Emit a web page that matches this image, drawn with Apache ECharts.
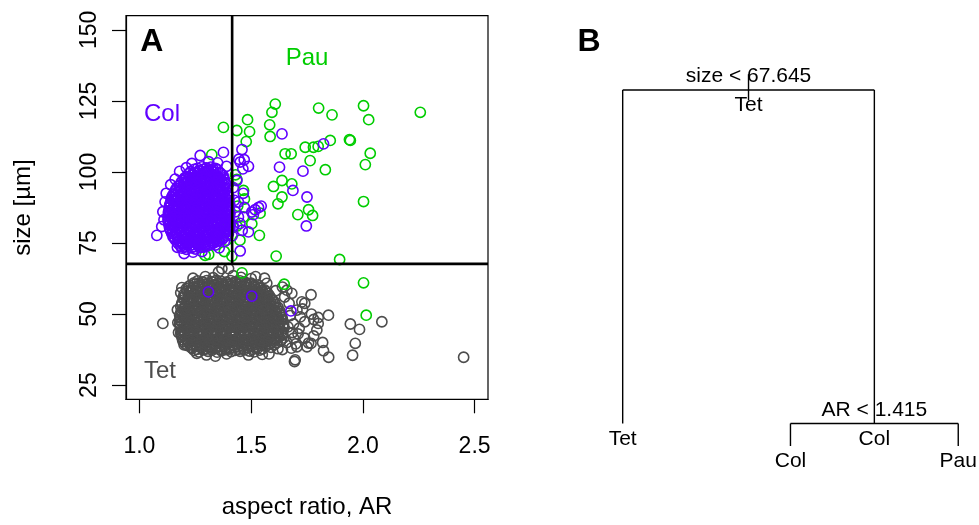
<!DOCTYPE html>
<html><head><meta charset="utf-8">
<script src="https://cdn.jsdelivr.net/npm/echarts@6/dist/echarts.min.js"></script>
<style>html,body{margin:0;padding:0;background:#fff}#c{width:979px;height:525px}</style>
</head><body><div id="c"></div><script>
// ---------- data ----------
const arTicks = [1.0, 1.5, 2.0, 2.5];
const sizeTicks = [25, 50, 75, 100, 125, 150];
const splitSize = 67.645;
const splitAR = 1.415;

const tetPoints = [
[1.245,37.2],[1.266,36.7],[1.284,37.4],[1.307,36.9],[1.325,37.3],[1.348,36.6],[1.367,37.1],[1.386,37.5],[1.41,36.8],[1.428,37.2],[1.451,36.9],[1.469,37.4],[1.492,37.0],[1.513,36.7],[1.538,37.3],
[1.215,38.9],[1.232,38.3],[1.256,38.7],[1.274,38.4],[1.297,38.9],[1.315,38.5],[1.338,38.2],[1.356,38.8],[1.379,38.6],[1.398,38.3],[1.42,38.9],[1.441,38.5],[1.46,38.7],[1.483,38.2],[1.503,38.8],[1.524,38.4],[1.547,38.9],[1.566,38.6],[1.589,38.3],
[1.196,40.3],[1.219,39.8],[1.238,40.4],[1.259,40.0],[1.281,40.5],[1.3,39.9],[1.323,40.2],[1.342,40.6],[1.363,39.8],[1.386,40.3],[1.405,40.0],[1.427,40.5],[1.447,39.9],[1.469,40.2],[1.49,40.6],[1.511,40.0],[1.533,40.3],[1.552,39.8],[1.574,40.4],[1.593,40.1],[1.614,39.9],[1.631,40.4],
[1.19,41.9],[1.208,41.4],[1.229,41.8],[1.251,41.5],[1.27,42.0],[1.292,41.6],[1.311,41.3],[1.334,41.9],[1.353,41.6],[1.375,42.0],[1.396,41.4],[1.416,41.8],[1.438,41.5],[1.457,42.1],[1.479,41.6],[1.5,41.3],[1.521,41.9],[1.543,41.5],[1.562,42.0],[1.584,41.7],[1.603,41.3],[1.625,41.9],[1.645,41.6],
[1.185,43.4],[1.204,43.0],[1.225,43.5],[1.243,43.1],[1.265,42.9],[1.285,43.4],[1.306,43.1],[1.327,43.6],[1.345,43.0],[1.368,43.3],[1.387,42.9],[1.409,43.5],[1.43,43.2],[1.449,42.8],[1.471,43.4],[1.492,43.1],[1.512,43.6],[1.534,43.0],[1.553,43.3],[1.575,42.9],[1.596,43.4],[1.617,43.1],[1.641,43.3],
[1.186,44.6],[1.21,45.1],[1.229,44.7],[1.252,45.0],[1.271,44.5],[1.293,44.9],[1.314,45.2],[1.335,44.6],[1.357,45.0],[1.376,44.7],[1.399,45.1],[1.418,44.5],[1.44,44.9],[1.461,45.2],[1.48,44.6],[1.503,44.9],[1.522,45.1],[1.544,44.6],[1.566,45.0],[1.585,44.7],[1.607,45.2],[1.627,44.8],[1.646,45.0],
[1.18,46.5],[1.199,46.1],[1.22,46.6],[1.241,46.2],[1.262,46.0],[1.282,46.5],[1.304,46.2],[1.323,46.7],[1.346,46.1],[1.365,46.4],[1.387,46.0],[1.407,46.6],[1.428,46.3],[1.45,45.9],[1.47,46.5],[1.491,46.2],[1.512,46.7],[1.534,46.1],[1.555,46.4],[1.574,46.0],[1.597,46.5],[1.618,46.2],[1.644,46.4],
[1.181,47.7],[1.205,48.2],[1.226,47.8],[1.246,48.1],[1.268,47.6],[1.288,48.0],[1.31,48.3],[1.33,47.7],[1.351,48.1],[1.373,47.8],[1.392,48.2],[1.414,47.6],[1.435,48.0],[1.456,48.3],[1.477,47.7],[1.498,48.0],[1.519,48.2],[1.54,47.7],[1.561,48.1],[1.582,47.8],[1.603,48.3],[1.622,47.9],[1.64,48.1],
[1.18,49.6],[1.198,49.2],[1.217,49.7],[1.239,49.3],[1.259,49.1],[1.281,49.6],[1.302,49.3],[1.322,49.8],[1.344,49.2],[1.364,49.5],[1.386,49.1],[1.406,49.7],[1.428,49.4],[1.448,49.0],[1.469,49.6],[1.49,49.3],[1.511,49.8],[1.532,49.2],[1.553,49.5],[1.574,49.1],[1.595,49.6],[1.615,49.3],[1.635,49.5],
[1.186,50.8],[1.207,51.3],[1.228,50.9],[1.249,51.2],[1.27,50.7],[1.291,51.1],[1.312,51.4],[1.334,50.8],[1.354,51.2],[1.375,50.9],[1.397,51.3],[1.417,50.7],[1.438,51.1],[1.46,51.4],[1.48,50.8],[1.501,51.1],[1.523,51.3],[1.543,50.8],[1.565,51.2],[1.585,50.9],[1.607,51.3],[1.629,51.0],
[1.185,52.7],[1.203,52.3],[1.222,52.8],[1.243,52.4],[1.264,52.2],[1.285,52.7],[1.306,52.4],[1.326,52.9],[1.348,52.3],[1.369,52.6],[1.39,52.2],[1.411,52.8],[1.432,52.5],[1.453,52.1],[1.474,52.7],[1.495,52.4],[1.516,52.9],[1.537,52.3],[1.558,52.6],[1.579,52.2],[1.6,52.7],[1.62,52.4],
[1.19,53.9],[1.212,54.4],[1.233,54.0],[1.254,54.3],[1.275,53.8],[1.296,54.2],[1.317,54.5],[1.338,53.9],[1.359,54.3],[1.38,54.0],[1.401,54.4],[1.422,53.8],[1.443,54.2],[1.464,54.5],[1.485,53.9],[1.506,54.2],[1.527,54.4],[1.548,53.9],[1.569,54.3],[1.588,54.0],[1.605,54.2],
[1.195,55.8],[1.216,55.4],[1.238,55.9],[1.259,55.5],[1.28,55.3],[1.301,55.8],[1.322,55.5],[1.343,56.0],[1.364,55.4],[1.385,55.7],[1.406,55.3],[1.427,55.9],[1.448,55.6],[1.469,55.2],[1.49,55.8],[1.511,55.5],[1.532,56.0],[1.553,55.4],[1.572,55.7],[1.59,55.5],
[1.2,57.0],[1.222,57.5],[1.243,57.1],[1.264,57.4],[1.285,56.9],[1.306,57.3],[1.327,57.6],[1.348,57.0],[1.37,57.4],[1.391,57.1],[1.412,57.5],[1.433,56.9],[1.454,57.3],[1.475,57.6],[1.496,57.0],[1.517,57.3],[1.538,57.5],[1.557,57.0],[1.575,57.3],
[1.21,58.9],[1.231,58.5],[1.252,59.0],[1.273,58.6],[1.294,58.4],[1.316,58.9],[1.337,58.6],[1.358,59.1],[1.379,58.5],[1.4,58.8],[1.421,58.4],[1.442,59.0],[1.463,58.7],[1.484,58.3],[1.505,58.9],[1.524,58.6],[1.543,59.0],[1.56,58.5],
[1.225,60.0],[1.247,60.5],[1.268,60.1],[1.289,60.4],[1.311,59.9],[1.332,60.3],[1.353,60.6],[1.374,60.0],[1.395,60.4],[1.416,60.1],[1.437,60.5],[1.458,59.9],[1.479,60.3],[1.5,60.6],[1.516,60.0],[1.531,60.3],
[1.26,61.7],[1.281,61.3],[1.302,61.8],[1.323,61.4],[1.345,61.9],[1.366,61.5],[1.387,61.2],[1.408,61.8],[1.429,61.4],[1.45,61.7],[1.47,61.3],
[1.236,37.9],[1.257,37.6],[1.279,38.0],[1.298,37.7],[1.32,38.1],[1.34,37.8],[1.361,37.5],[1.382,38.0],[1.402,37.7],[1.423,38.1],[1.444,37.6],[1.465,37.9],[1.486,38.1],[1.507,37.6],[1.528,37.9],[1.55,37.7],
[1.206,39.5],[1.228,39.2],[1.248,39.6],[1.27,39.3],[1.29,39.7],[1.311,39.4],[1.332,39.1],[1.352,39.6],[1.374,39.3],[1.394,39.7],[1.415,39.2],[1.436,39.5],[1.457,39.7],[1.478,39.2],[1.499,39.5],[1.52,39.3],[1.541,39.7],[1.562,39.2],[1.583,39.5],[1.604,39.3],
[1.193,41.0],[1.214,40.7],[1.235,41.1],[1.256,40.8],[1.277,41.2],[1.298,40.9],[1.318,40.6],[1.339,41.1],[1.36,40.8],[1.381,41.2],[1.402,40.7],[1.423,41.0],[1.444,41.2],[1.465,40.7],[1.486,41.0],[1.507,40.8],[1.528,41.2],[1.548,40.7],[1.569,41.0],[1.59,40.8],[1.611,41.1],[1.635,40.9],
[1.187,42.6],[1.199,42.3],[1.22,42.7],[1.241,42.4],[1.262,42.8],[1.282,42.5],[1.303,42.2],[1.324,42.7],[1.345,42.4],[1.366,42.8],[1.387,42.3],[1.408,42.6],[1.429,42.8],[1.45,42.3],[1.471,42.6],[1.492,42.4],[1.513,42.8],[1.534,42.3],[1.555,42.6],[1.576,42.4],[1.597,42.7],[1.618,42.5],[1.64,42.6],
[1.195,44.1],[1.217,43.8],[1.238,44.2],[1.259,43.9],[1.28,44.3],[1.301,44.0],[1.322,43.7],[1.343,44.2],[1.364,43.9],[1.385,44.3],[1.406,43.8],[1.427,44.1],[1.448,44.3],[1.469,43.8],[1.49,44.1],[1.511,43.9],[1.532,44.3],[1.553,43.8],[1.574,44.1],[1.595,43.9],[1.616,44.2],[1.637,44.0],
[1.183,45.7],[1.204,45.4],[1.225,45.8],[1.246,45.5],[1.267,45.9],[1.288,45.6],[1.309,45.3],[1.33,45.8],[1.351,45.5],[1.372,45.9],[1.393,45.4],[1.414,45.7],[1.435,45.9],[1.456,45.4],[1.477,45.7],[1.498,45.5],[1.519,45.9],[1.54,45.4],[1.561,45.7],[1.582,45.5],[1.603,45.8],[1.624,45.6],[1.643,45.7],
[1.19,47.2],[1.211,46.9],[1.232,47.3],[1.253,47.0],[1.274,47.4],[1.295,47.1],[1.316,46.8],[1.337,47.3],[1.358,47.0],[1.379,47.4],[1.4,46.9],[1.421,47.2],[1.442,47.4],[1.463,46.9],[1.484,47.2],[1.505,47.0],[1.526,47.4],[1.547,46.9],[1.568,47.2],[1.589,47.0],[1.61,47.3],[1.631,47.1],
[1.183,48.8],[1.202,48.5],[1.223,48.9],[1.244,48.6],[1.265,49.0],[1.286,48.7],[1.307,48.4],[1.328,48.9],[1.349,48.6],[1.37,49.0],[1.391,48.5],[1.412,48.8],[1.433,49.0],[1.454,48.5],[1.475,48.8],[1.496,48.6],[1.517,49.0],[1.538,48.5],[1.559,48.8],[1.58,48.6],[1.601,48.9],[1.62,48.7],[1.638,48.8],
[1.19,50.3],[1.21,50.0],[1.231,50.4],[1.252,50.1],[1.273,50.5],[1.294,50.2],[1.315,49.9],[1.336,50.4],[1.357,50.1],[1.378,50.5],[1.399,50.0],[1.42,50.3],[1.441,50.5],[1.462,50.0],[1.483,50.3],[1.504,50.1],[1.525,50.5],[1.546,50.0],[1.567,50.3],[1.588,50.1],[1.609,50.4],[1.628,50.2],
[1.196,51.9],[1.217,51.6],[1.238,52.0],[1.259,51.7],[1.28,52.1],[1.301,51.8],[1.322,51.5],[1.343,52.0],[1.364,51.7],[1.385,52.1],[1.406,51.6],[1.427,51.9],[1.448,52.1],[1.469,51.6],[1.49,51.9],[1.511,51.7],[1.532,52.1],[1.553,51.6],[1.574,51.9],[1.595,51.7],[1.614,52.0],
[1.189,53.4],[1.208,53.1],[1.229,53.5],[1.25,53.2],[1.271,53.6],[1.292,53.3],[1.313,53.0],[1.334,53.5],[1.355,53.2],[1.376,53.6],[1.397,53.1],[1.418,53.4],[1.439,53.6],[1.46,53.1],[1.481,53.4],[1.502,53.2],[1.523,53.6],[1.544,53.1],[1.565,53.4],[1.586,53.2],[1.608,53.4],
[1.2,55.0],[1.222,54.7],[1.243,55.1],[1.264,54.8],[1.285,55.2],[1.306,54.9],[1.327,54.6],[1.348,55.1],[1.369,54.8],[1.39,55.2],[1.411,54.7],[1.432,55.0],[1.453,55.2],[1.474,54.7],[1.495,55.0],[1.516,54.8],[1.537,55.2],[1.558,54.7],[1.579,55.0],[1.597,54.9],
[1.205,56.5],[1.227,56.2],[1.248,56.6],[1.269,56.3],[1.29,56.7],[1.311,56.4],[1.332,56.1],[1.353,56.6],[1.374,56.3],[1.395,56.7],[1.416,56.2],[1.437,56.5],[1.458,56.7],[1.479,56.2],[1.5,56.5],[1.521,56.3],[1.542,56.7],[1.563,56.2],[1.582,56.5],
[1.213,58.1],[1.236,57.8],[1.257,58.2],[1.278,57.9],[1.299,58.3],[1.32,58.0],[1.341,57.7],[1.362,58.2],[1.383,57.9],[1.404,58.3],[1.425,57.8],[1.446,58.1],[1.467,58.3],[1.488,57.8],[1.509,58.1],[1.53,57.9],[1.55,58.2],[1.567,58.0],
[1.22,59.6],[1.24,59.3],[1.262,59.7],[1.283,59.4],[1.304,59.8],[1.325,59.5],[1.346,59.2],[1.367,59.7],[1.388,59.4],[1.409,59.8],[1.43,59.3],[1.451,59.6],[1.472,59.8],[1.493,59.3],[1.512,59.6],[1.54,59.4],
[1.244,61.0],[1.266,60.7],[1.287,61.1],[1.308,60.8],[1.33,61.2],[1.351,60.9],[1.372,60.6],[1.393,61.1],[1.414,60.8],[1.435,61.2],[1.456,60.7],[1.478,61.0],[1.5,60.9],
[1.105,46.7],[1.17,51.5],[1.172,47.0],[1.175,43.5],[1.185,57.5],[1.19,59.3],[1.2,39.2],[1.24,62.6],[1.295,63.2],[1.33,62.8],[1.354,64.8],[1.369,66.0],[1.399,66.0],[1.42,63.5],[1.455,62.9],[1.5,62.5],[1.52,63.2],[1.56,62.6],[1.57,60.8],[1.64,59.5],[1.66,58.4],[1.682,57.3],[1.727,54.3],[1.74,53.8],[1.768,56.8],[1.705,51.4],[1.73,51.8],[1.77,50.0],[1.80,48.8],[1.78,48.1],[1.74,47.3],[1.80,46.7],[1.846,49.6],[1.794,44.4],[1.71,43.0],[1.78,42.3],[1.69,41.5],[1.66,40.0],[1.82,40.0],[1.768,39.7],[1.757,39.8],[1.70,39.5],[1.705,38.5],[1.68,38.0],[1.75,38.5],[1.64,37.5],[1.824,37.1],[1.58,36.0],[1.55,35.8],[1.488,35.6],[1.39,36.0],[1.34,35.2],[1.257,36.2],[1.30,35.6],[1.694,33.3],[1.697,33.9],[1.847,34.8],[1.944,46.5],[1.985,44.6],[2.085,47.3],[1.966,39.7],[1.954,35.5],[2.451,34.8],[1.62,37.8],[1.665,45.5],[1.675,49.5],[1.69,46.5],[1.67,53.8],[1.65,56.0],[1.61,58.2],[1.715,45.0],[1.74,41.5],[1.72,49.0],[1.685,43.5]
];

const colPoints = [
[1.19,73.2],[1.21,72.8],[1.232,73.3],[1.25,72.9],[1.272,73.4],[1.29,73.6],
[1.175,74.7],[1.196,74.3],[1.215,74.8],[1.236,74.4],[1.255,74.9],[1.276,74.5],[1.295,74.2],[1.314,74.7],[1.332,75.0],
[1.16,76.2],[1.18,75.8],[1.201,76.3],[1.22,75.9],[1.241,76.4],[1.26,76.0],[1.28,75.7],[1.3,76.2],[1.321,75.9],[1.34,76.3],[1.358,75.8],[1.372,76.4],
[1.15,77.3],[1.169,77.8],[1.19,77.4],[1.209,77.7],[1.23,77.2],[1.249,77.6],[1.27,77.9],[1.289,77.3],[1.31,77.7],[1.329,77.4],[1.35,77.8],[1.369,77.2],[1.39,77.6],
[1.14,79.2],[1.16,78.8],[1.179,79.3],[1.2,78.9],[1.219,79.4],[1.24,79.0],[1.259,78.7],[1.28,79.2],[1.299,78.9],[1.32,79.3],[1.339,78.8],[1.36,79.4],[1.379,79.0],[1.4,79.2],
[1.135,80.3],[1.155,80.8],[1.174,80.4],[1.195,80.7],[1.214,80.2],[1.235,80.6],[1.254,80.9],[1.275,80.3],[1.294,80.7],[1.315,80.4],[1.334,80.8],[1.355,80.2],[1.374,80.6],[1.393,80.9],[1.405,80.4],
[1.13,82.2],[1.149,81.8],[1.17,82.3],[1.189,81.9],[1.21,82.4],[1.229,82.0],[1.25,81.7],[1.269,82.2],[1.29,81.9],[1.309,82.3],[1.33,81.8],[1.349,82.4],[1.37,82.0],[1.389,81.7],[1.405,82.2],
[1.128,83.3],[1.144,83.8],[1.165,83.4],[1.184,83.7],[1.205,83.2],[1.224,83.6],[1.245,83.9],[1.264,83.3],[1.285,83.7],[1.304,83.4],[1.325,83.8],[1.344,83.2],[1.365,83.6],[1.384,83.9],[1.403,83.4],
[1.13,85.2],[1.15,84.8],[1.17,85.3],[1.19,84.9],[1.21,85.4],[1.23,85.0],[1.25,84.7],[1.27,85.2],[1.29,84.9],[1.31,85.3],[1.33,84.8],[1.35,85.4],[1.37,85.0],[1.39,84.7],[1.405,85.2],
[1.132,86.3],[1.146,86.8],[1.166,86.4],[1.186,86.7],[1.206,86.2],[1.226,86.6],[1.246,86.9],[1.266,86.3],[1.286,86.7],[1.306,86.4],[1.326,86.8],[1.346,86.2],[1.366,86.6],[1.386,86.9],[1.404,86.4],
[1.135,88.2],[1.154,87.8],[1.175,88.3],[1.194,87.9],[1.215,88.4],[1.234,88.0],[1.255,87.7],[1.274,88.2],[1.295,87.9],[1.314,88.3],[1.335,87.8],[1.354,88.4],[1.375,88.0],[1.392,87.7],[1.405,88.3],
[1.14,89.3],[1.16,89.8],[1.18,89.4],[1.2,89.7],[1.22,89.2],[1.24,89.6],[1.26,89.9],[1.28,89.3],[1.3,89.7],[1.32,89.4],[1.34,89.8],[1.36,89.2],[1.38,89.6],[1.4,89.9],
[1.145,91.2],[1.165,90.8],[1.185,91.3],[1.205,90.9],[1.225,91.4],[1.245,91.0],[1.265,90.7],[1.285,91.2],[1.305,90.9],[1.325,91.3],[1.345,90.8],[1.365,91.4],[1.385,91.0],[1.4,91.3],
[1.155,92.3],[1.174,92.8],[1.195,92.4],[1.214,92.7],[1.235,92.2],[1.254,92.6],[1.275,92.9],[1.294,92.3],[1.315,92.7],[1.334,92.4],[1.355,92.8],[1.374,92.2],[1.395,92.6],
[1.165,94.2],[1.186,93.8],[1.205,94.3],[1.226,93.9],[1.245,94.4],[1.266,94.0],[1.285,93.7],[1.306,94.2],[1.325,93.9],[1.346,94.3],[1.365,93.8],[1.39,94.2],
[1.18,95.3],[1.199,95.8],[1.22,95.4],[1.239,95.7],[1.26,95.2],[1.279,95.6],[1.3,95.9],[1.319,95.3],[1.34,95.7],[1.359,95.4],[1.385,95.8],
[1.195,97.2],[1.216,96.8],[1.235,97.3],[1.256,96.9],[1.275,97.4],[1.296,97.0],[1.315,96.7],[1.336,97.2],[1.355,96.9],[1.38,97.3],
[1.21,98.3],[1.23,98.8],[1.25,98.4],[1.27,98.7],[1.29,98.2],[1.31,98.6],[1.33,98.9],[1.35,98.3],[1.375,98.7],
[1.23,100.2],[1.25,99.8],[1.27,100.3],[1.29,99.9],[1.31,100.4],[1.33,100.0],[1.36,99.8],
[1.26,101.3],[1.28,101.8],[1.3,101.4],[1.32,101.7],[1.34,101.3],
[1.185,73.9],[1.205,73.6],[1.224,74.0],[1.245,73.7],[1.264,74.1],[1.285,73.8],[1.305,74.0],
[1.168,75.4],[1.188,75.1],[1.207,75.5],[1.228,75.2],[1.247,75.6],[1.268,75.3],[1.287,75.0],[1.308,75.5],[1.327,75.2],[1.348,75.6],
[1.155,76.9],[1.175,76.6],[1.194,77.0],[1.215,76.7],[1.234,77.1],[1.255,76.8],[1.274,76.5],[1.295,77.0],[1.314,76.7],[1.335,77.1],[1.354,76.6],[1.375,76.9],
[1.145,78.4],[1.164,78.1],[1.185,78.5],[1.204,78.2],[1.225,78.6],[1.244,78.3],[1.265,78.0],[1.284,78.5],[1.305,78.2],[1.324,78.6],[1.345,78.1],[1.364,78.4],[1.385,78.6],[1.398,78.2],
[1.138,79.9],[1.15,79.6],[1.17,80.0],[1.19,79.7],[1.21,80.1],[1.23,79.8],[1.25,79.5],[1.27,80.0],[1.29,79.7],[1.31,80.1],[1.33,79.6],[1.35,79.9],[1.37,80.1],[1.39,79.6],[1.402,79.9],
[1.132,81.4],[1.145,81.1],[1.165,81.5],[1.184,81.2],[1.205,81.6],[1.224,81.3],[1.245,81.0],[1.264,81.5],[1.285,81.2],[1.304,81.6],[1.325,81.1],[1.344,81.4],[1.365,81.6],[1.384,81.1],[1.404,81.3],
[1.13,82.9],[1.14,82.6],[1.16,83.0],[1.18,82.7],[1.2,83.1],[1.22,82.8],[1.24,82.5],[1.26,83.0],[1.28,82.7],[1.3,83.1],[1.32,82.6],[1.34,82.9],[1.36,83.1],[1.38,82.6],[1.398,82.9],
[1.128,84.4],[1.14,84.1],[1.16,84.5],[1.179,84.2],[1.2,84.6],[1.219,84.3],[1.24,84.0],[1.259,84.5],[1.28,84.2],[1.299,84.6],[1.32,84.1],[1.339,84.4],[1.36,84.6],[1.379,84.1],[1.4,84.4],
[1.13,85.9],[1.14,85.6],[1.16,86.0],[1.18,85.7],[1.2,86.1],[1.22,85.8],[1.24,85.5],[1.26,86.0],[1.28,85.7],[1.3,86.1],[1.32,85.6],[1.34,85.9],[1.36,86.1],[1.38,85.6],[1.398,85.9],
[1.133,87.4],[1.156,87.1],[1.176,87.5],[1.196,87.2],[1.216,87.6],[1.236,87.3],[1.256,87.0],[1.276,87.5],[1.296,87.2],[1.316,87.6],[1.336,87.1],[1.356,87.4],[1.376,87.6],[1.396,87.2],
[1.138,88.9],[1.165,88.6],[1.185,89.0],[1.204,88.7],[1.225,89.1],[1.244,88.8],[1.265,88.5],[1.284,89.0],[1.305,88.7],[1.324,89.1],[1.345,88.6],[1.364,88.9],[1.385,89.1],[1.402,88.7],
[1.142,90.4],[1.15,90.1],[1.17,90.5],[1.19,90.2],[1.21,90.6],[1.23,90.3],[1.25,90.0],[1.27,90.5],[1.29,90.2],[1.31,90.6],[1.33,90.1],[1.35,90.4],[1.37,90.6],[1.39,90.2],
[1.15,91.9],[1.175,91.6],[1.195,92.0],[1.215,91.7],[1.235,92.1],[1.255,91.8],[1.275,91.5],[1.295,92.0],[1.315,91.7],[1.335,92.1],[1.355,91.6],[1.375,91.9],[1.395,91.8],
[1.16,93.4],[1.184,93.1],[1.204,93.5],[1.224,93.2],[1.244,93.6],[1.264,93.3],[1.284,93.0],[1.304,93.5],[1.324,93.2],[1.344,93.6],[1.364,93.1],[1.384,93.4],
[1.172,94.9],[1.195,94.6],[1.215,95.0],[1.235,94.7],[1.255,95.1],[1.275,94.8],[1.295,94.5],[1.315,95.0],[1.335,94.7],[1.355,95.1],[1.375,94.8],
[1.187,96.4],[1.209,96.1],[1.229,96.5],[1.249,96.2],[1.269,96.6],[1.289,96.3],[1.309,96.0],[1.329,96.5],[1.349,96.2],[1.369,96.6],[1.384,96.3],
[1.202,97.9],[1.22,97.6],[1.24,98.0],[1.26,97.7],[1.28,98.1],[1.3,97.8],[1.32,97.5],[1.34,98.0],[1.36,97.7],[1.378,97.9],
[1.22,99.4],[1.24,99.1],[1.26,99.5],[1.28,99.2],[1.3,99.6],[1.32,99.3],[1.34,99.0],[1.365,99.4],
[1.245,100.9],[1.27,100.6],[1.29,101.0],[1.31,100.7],[1.33,101.1],[1.35,100.8],
[1.078,77.7],[1.10,80.8],[1.105,86.0],[1.11,83.2],[1.115,89.5],[1.12,92.5],[1.14,95.5],[1.16,97.5],[1.18,100.2],[1.21,101.5],[1.235,103.0],[1.272,105.8],[1.31,103.6],[1.35,103.2],[1.376,106.9],[1.39,102.0],[1.2,71.3],[1.17,73.5],[1.24,71.8],[1.28,72.0],[1.357,73.3],[1.34,74.3],[1.38,75.5],[1.42,94.5],[1.425,90.0],[1.43,86.0],[1.42,81.0],[1.415,77.5],[1.445,104.5],[1.459,107.9],[1.469,104.3],[1.451,103.5],[1.488,102.0],[1.463,101.1],[1.436,97.0],[1.443,89.4],[1.443,84.2],[1.45,81.9],[1.488,78.9],[1.451,72.2],[1.503,85.9],[1.518,86.7],[1.533,87.5],[1.545,88.0],[1.51,85.0],[1.465,92.5],[1.47,87.5],[1.46,79.5],[1.638,113.4],[1.824,109.9],[1.627,101.7],[1.732,100.3],[1.687,93.5],[1.75,91.2],[1.747,81.0],[1.309,57.8],[1.503,56.3],[1.678,51.1]
];

const pauPoints = [
[1.608,123.9],[1.593,121.0],[1.802,122.5],[1.862,120.1],[2.003,123.3],[2.026,118.4],[2.257,121.0],[1.484,118.4],[1.436,114.6],[1.493,114.2],[1.583,116.6],[1.585,112.5],[1.478,110.7],[1.376,115.7],[1.324,106.1],[1.854,111.1],[1.944,111.1],[1.94,111.4],[1.742,108.7],[1.779,108.7],[1.80,109.0],[1.652,106.4],[1.679,106.4],[1.764,104.0],[1.832,100.8],[2.033,106.6],[2.011,102.6],[2.003,89.6],[1.638,97.0],[1.60,94.9],[1.682,95.8],[1.638,91.2],[1.62,88.8],[1.709,85.0],[1.757,86.7],[1.775,84.7],[1.537,77.7],[1.612,70.4],[1.896,69.2],[1.648,60.5],[2.003,61.0],[2.015,49.6],[1.459,64.5],[1.466,93.5],[1.31,71.0],[1.414,70.4],[1.294,70.7],[1.436,97.4],[1.44,88.0],[1.397,83.0],[1.42,80.5],[1.466,84.2],[1.503,81.8],[1.54,85.5],[1.436,81.0],[1.40,96.0],[1.43,99.0],[1.39,76.0],[1.36,83.0],[1.38,72.0],[1.47,90.5],[1.45,76.0]
];

const groupNames = ['Col', 'Pau', 'Tet'];
const groupLabelAR = [1.101, 1.750, 1.092];
const groupLabelSize = [120.2, 140.1, 29.9];

// tree (panel B): leaf order on x, node deviance on y
const treeNodeClass = ['Tet', 'Col', 'Tet', 'Col', 'Pau'];
const treeNodeX = [1.75, 2.5, 1, 2, 3];
const treeNodeDev = [1580, 100, 100, 0, 0];
const treeParent = [-1, 0, 0, 1, 1];
const treeSplitText = ['size < 67.645', 'AR < 1.415', null, null, null];
const treeRootStub = [1650, 1535];

// ---------- chart ----------
const FONT = '"Liberation Sans", Arial, Helvetica, sans-serif';
const COL_C = '#6000FF', PAU_C = '#00CD00', TET_C = '#4D4D4D';
const chart = echarts.init(document.getElementById('c'), null, {renderer: 'canvas'});

function ring(name, data, color, z) {
  return {
    type: 'scatter', name, xAxisIndex: 0, yAxisIndex: 0, data, z,
    symbol: 'circle', symbolSize: 10.2, silent: true, large: false, progressive: 0,
    itemStyle: {color: 'rgba(0,0,0,0)', borderColor: color, borderWidth: 1.6, opacity: 1},
    emphasis: {disabled: true}
  };
}
function seg(coords, width, grid, z) {
  return {
    type: 'line', xAxisIndex: grid, yAxisIndex: grid, data: coords, z,
    symbol: 'none', showSymbol: false, silent: true, animation: false,
    lineStyle: {color: '#000', width, opacity: 1}, emphasis: {disabled: true}
  };
}

const series = [
  ring('Tet', tetPoints, TET_C, 2),
  ring('Pau', pauPoints, PAU_C, 3),
  ring('Col', colPoints, COL_C, 4),
  seg([[0.94, splitSize], [2.56, splitSize]], 2.6, 0, 10),
  seg([[splitAR, splitSize], [splitAR, 155]], 2.6, 0, 10),
  {
    type: 'scatter', xAxisIndex: 0, yAxisIndex: 0, z: 12, silent: true,
    symbolSize: 0, itemStyle: {opacity: 1, color: 'rgba(0,0,0,0)'},
    data: groupNames.map((n, i) => ({
      value: [groupLabelAR[i], groupLabelSize[i]],
      label: {show: true, position: 'inside', formatter: n, fontFamily: FONT, fontSize: 24,
        color: [COL_C, PAU_C, TET_C][i], textBorderWidth: 0, opacity: 1}
    }))
  }
];

// tree segments
treeNodeX.forEach((x, i) => {
  const p = treeParent[i];
  if (p >= 0) series.push(seg([[x, treeNodeDev[p]], [x, treeNodeDev[i]]], 1.4, 1, 5));
  const kids = treeParent.map((q, j) => q === i ? j : -1).filter(j => j >= 0);
  if (kids.length) {
    const xs = kids.map(j => treeNodeX[j]);
    series.push(seg([[Math.min(...xs), treeNodeDev[i]], [Math.max(...xs), treeNodeDev[i]]], 1.4, 1, 5));
  }
});
series.push(seg([[treeNodeX[0], treeRootStub[0]], [treeNodeX[0], treeRootStub[1]]], 1.4, 1, 5));

const tlab = {fontFamily: FONT, fontSize: 21, lineHeight: 21, color: '#000', textBorderWidth: 0, opacity: 1};
const treeLabels = [];
treeNodeX.forEach((x, i) => {
  treeLabels.push({value: [x, treeNodeDev[i]],
    label: Object.assign({show: true, position: 'bottom', distance: 5, formatter: treeNodeClass[i]}, tlab)});
  if (treeSplitText[i]) treeLabels.push({value: [x, treeNodeDev[i]],
    label: Object.assign({show: true, position: 'top', distance: 3, formatter: treeSplitText[i]}, tlab)});
});
series.push({type: 'scatter', xAxisIndex: 1, yAxisIndex: 1, symbolSize: 0, silent: true, z: 8,
  itemStyle: {opacity: 1, color: 'rgba(0,0,0,0)'}, data: treeLabels});

const axisTxt = {fontFamily: FONT, fontSize: 23, color: '#000'};
chart.setOption({
  animation: false,
  backgroundColor: '#fff',
  grid: [
    {left: 126, top: 15.7, width: 362, height: 383.6, show: true, borderColor: '#000', borderWidth: 1.2,
     backgroundColor: 'rgba(0,0,0,0)', containLabel: false, outerBoundsMode: 'none'},
    {left: 538.8, top: 45, width: 453, height: 423.6, show: false, containLabel: false, outerBoundsMode: 'none'}
  ],
  xAxis: [
    {gridIndex: 0, type: 'value', min: 0.94, max: 2.56, position: 'bottom',
     axisLine: {show: true, onZero: false, lineStyle: {color: '#000', width: 1.2}},
     axisTick: {show: true, inside: false, length: 14, customValues: arTicks, lineStyle: {color: '#000', width: 1.2}},
     axisLabel: Object.assign({show: true, customValues: arTicks, margin: 36, formatter: v => v.toFixed(1)}, axisTxt),
     splitLine: {show: false},
     name: 'aspect ratio, AR', nameLocation: 'middle', nameGap: 96,
     nameTextStyle: {fontFamily: FONT, fontSize: 24, color: '#000'}},
    {gridIndex: 1, type: 'value', min: 0.5, max: 3.2, show: false}
  ],
  yAxis: [
    {gridIndex: 0, type: 'value', min: 20, max: 155, position: 'left',
     axisLine: {show: true, onZero: false, lineStyle: {color: '#000', width: 1.2}},
     axisTick: {show: true, inside: false, length: 14, customValues: sizeTicks, lineStyle: {color: '#000', width: 1.2}},
     axisLabel: Object.assign({show: true, customValues: sizeTicks, margin: 25, rotate: 90}, axisTxt),
     splitLine: {show: false},
     name: 'size [µm]', nameLocation: 'middle', nameGap: 91,
     nameTextStyle: {fontFamily: FONT, fontSize: 24, color: '#000'}},
    {gridIndex: 1, type: 'value', min: -100, max: 1780, show: false}
  ],
  graphic: [
    {type: 'text', x: 151.7, y: 42, style: {text: 'A', font: 'bold 32px ' + FONT, fill: '#000', align: 'center', verticalAlign: 'middle'}},
    {type: 'text', x: 589, y: 42.5, style: {text: 'B', font: 'bold 32px ' + FONT, fill: '#000', align: 'center', verticalAlign: 'middle'}}
  ],
  series
});
</script></body></html>
